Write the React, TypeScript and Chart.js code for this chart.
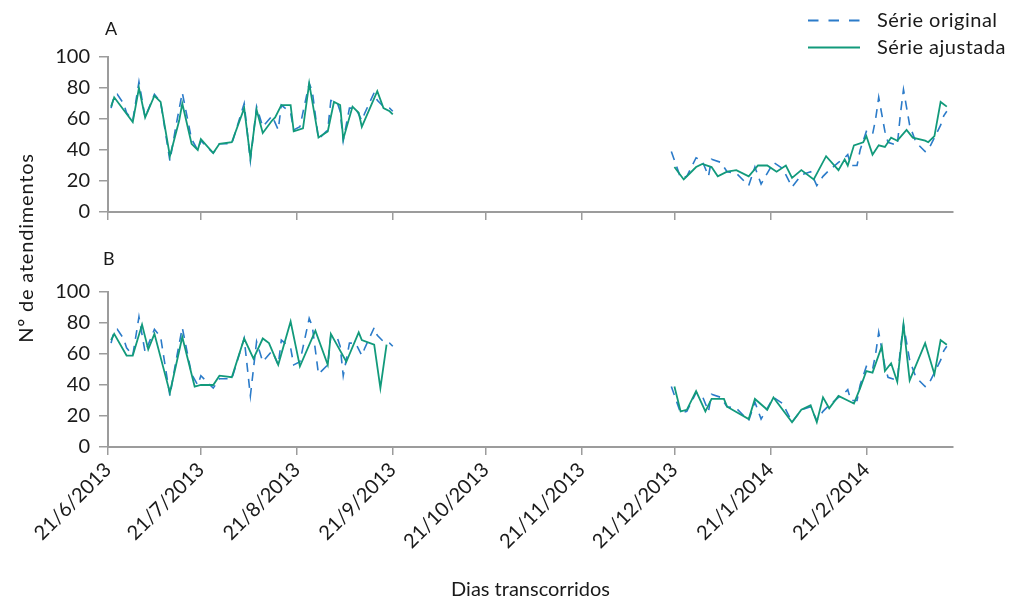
import { useEffect, useRef } from "react";
import { Chart, registerables } from "chart.js";
Chart.register(...registerables);

const FONT = "Lato, 'Open Sans', sans-serif";
const BLUE = "#2b7bc9";
const GREEN = "#129a7b";
const AXIS = "#9c9c9c";
const TEXT = "#1a1a1a";

// x axis: days since 21/6/2013
const tickDays = [0, 30, 61, 92, 122, 153, 183, 214, 245];
const tickLabels = [
  "21/6/2013", "21/7/2013", "21/8/2013", "21/9/2013", "21/10/2013",
  "21/11/2013", "21/12/2013", "21/1/2014", "21/2/2014",
];
const xMax = 273;
const yTicks = [0, 20, 40, 60, 80, 100];

// Série original (same in both panels); null = no data (break)
const origDays = [
  1, 2, 3, 5, 6, 8, 10, 12, 15, 17, 20, 22, 24, 27, 29, 30, 34, 36, 40, 44, 46, 48, 50, 53, 55, 56, 59, 60, 62, 65, 66, 68, 71, 72, 74, 75, 76, 78, 80, 82, 83, 86, 87, 89, 91, 92,
  137,
  182, 185, 187, 190, 192, 194, 195, 198, 200, 203, 207, 209, 211, 215, 218, 221, 224, 227, 229, 231, 233, 236, 238, 239, 240, 242, 243, 245, 247, 248, 249, 251, 252, 255, 256, 257, 259, 261, 264, 265, 267, 269, 270, 271,
];
const origVals = [
  67, 75, 76, 70, 64, 59, 84, 61, 76, 71, 33, 56, 77, 47, 40, 46, 38, 44, 44, 70, 33, 68, 55, 62, 53, 69, 64, 53, 55, 83, 78, 47, 53, 72, 71, 65, 46, 67, 67, 59, 64, 77, 72, 68, 67, 65,
  null,
  39, 22, 23, 35, 33, 23, 34, 32, 26, 25, 17, 29, 18, 32, 28, 16, 24, 26, 17, 23, 27, 32, 35, 37, 30, 30, 40, 52, 50, 60, 74, 52, 45, 43, 63, 79, 56, 45, 39, 40, 48, 56, 62, 65,
];

// Série ajustada, panel A
const adjADays = [
  1, 2, 8, 10, 12, 15, 17, 20, 23, 24, 27, 29, 30, 34, 36, 40, 44, 46, 48, 50, 53, 54, 56, 59, 60, 63, 65, 68, 71, 73, 75, 76, 79, 81, 82, 87, 89, 91, 92,
  137,
  183, 186, 188, 190, 192, 195, 197, 200, 203, 207, 210, 213, 216, 219, 221, 224, 228, 232, 236, 238, 239, 241, 244, 245, 247, 249, 251, 253, 255, 258, 260, 264, 265, 267, 269, 271,
];
const adjAVals = [
  68, 74, 58, 80, 61, 75, 71, 36, 59, 70, 44, 40, 47, 38, 44, 45, 67, 35, 66, 51, 59, 61, 69, 69, 52, 54, 83, 48, 52, 71, 69, 47, 68, 64, 55, 78, 67, 65, 63,
  null,
  29, 21, 25, 29, 31, 29, 23, 26, 27, 23, 30, 30, 26, 30, 22, 27, 21, 36, 27, 34, 30, 43, 45, 49, 37, 43, 42, 48, 46, 53, 48, 46, 45, 49, 71, 68,
];

// Série ajustada, panel B
const adjBDays = [
  1, 2, 6, 8, 11, 13, 15, 20, 24, 28, 30, 34, 36, 40, 44, 47, 50, 52, 55, 59, 62, 67, 71, 72, 77, 81, 82, 86, 88, 90,
  137,
  183, 185, 187, 190, 193, 195, 199, 200, 207, 209, 213, 215, 221, 224, 227, 229, 231, 233, 236, 239, 241, 243, 245, 247, 250, 251, 253, 255, 257, 259, 264, 267, 269, 271,
];
const adjBVals = [
  69, 73, 59, 59, 79, 63, 73, 35, 71, 39, 40, 40, 46, 45, 70, 57, 70, 67, 53, 81, 52, 75, 53, 73, 55, 74, 69, 66, 38, 66,
  null,
  39, 23, 24, 36, 23, 31, 31, 26, 18, 31, 24, 32, 16, 24, 27, 16, 32, 25, 33, 30, 28, 38, 49, 48, 65, 49, 54, 42, 79, 43, 67, 47, 69, 66,
];

const pts = (d: number[], v: (number | null)[]) => d.map((x, i) => ({ x, y: v[i] }));

function makeConfig(adjDays: number[], adjVals: (number | null)[], bottom: boolean, height: number): any {
  return {
    type: "line",
    data: {
      datasets: [
        {
          label: "Série ajustada",
          data: pts(adjDays, adjVals),
          borderColor: GREEN,
          borderWidth: 1.8,
          pointRadius: 0,
          tension: 0,
          spanGaps: false,
        },
        {
          label: "Série original",
          data: pts(origDays, origVals),
          borderColor: BLUE,
          borderWidth: 1.6,
          borderDash: [9, 7],
          pointRadius: 0,
          tension: 0,
          spanGaps: false,
        },
      ],
    },
    options: {
      animation: false,
      responsive: false,
      maintainAspectRatio: false,
      layout: { padding: { left: 0, right: 69, top: 57, bottom: 0 } },
      plugins: { legend: { display: false }, tooltip: { enabled: false } },
      scales: {
        x: {
          type: "linear",
          min: 0,
          max: xMax,
          afterBuildTicks: (s: any) => {
            s.ticks = tickDays.map((v) => ({ value: v }));
          },
          afterFit: (s: any) => {
            s.height = height - 212;
          },
          ticks: {
            display: bottom,
            autoSkip: false,
            minRotation: 45,
            maxRotation: 45,
            padding: 3,
            color: TEXT,
            font: { family: FONT, size: 20 },
            callback: (v: number) => {
              const i = tickDays.indexOf(v);
              return i >= 0 ? tickLabels[i] : "";
            },
          },
          grid: { drawOnChartArea: false, drawTicks: true, tickLength: 8, color: AXIS, lineWidth: 1.5 },
          border: { display: true, color: AXIS, width: 2 },
          title: bottom
            ? {
                display: true,
                text: "Dias transcorridos",
                color: TEXT,
                font: { family: FONT, size: 20 },
                padding: { top: 0, bottom: 1 },
              }
            : { display: false },
        },
        y: {
          min: 0,
          max: 100,
          afterBuildTicks: (s: any) => {
            s.ticks = yTicks.map((v) => ({ value: v }));
          },
          afterFit: (s: any) => {
            s.width = 108;
          },
          ticks: {
            color: TEXT,
            padding: 9,
            font: { family: FONT, size: 20 },
          },
          grid: { drawOnChartArea: false, drawTicks: true, tickLength: 9, color: AXIS, lineWidth: 1.5 },
          border: { display: true, color: AXIS, width: 2 },
        },
      },
    },
  };
}

export default function App() {
  const refA = useRef<HTMLCanvasElement>(null);
  const refB = useRef<HTMLCanvasElement>(null);

  useEffect(() => {
    const a = new Chart(refA.current as HTMLCanvasElement, makeConfig(adjADays, adjAVals, false, 235));
    const b = new Chart(refB.current as HTMLCanvasElement, makeConfig(adjBDays, adjBVals, true, 368));
    return () => {
      a.destroy();
      b.destroy();
    };
  }, []);

  const txt = (extra: any) => ({
    position: "absolute" as const,
    fontFamily: FONT,
    color: TEXT,
    lineHeight: 1.2,
    whiteSpace: "nowrap" as const,
    ...extra,
  });

  return (
    <div style={{ position: "absolute", left: 0, top: 0, width: 1022, height: 603, background: "#fff", overflow: "hidden" }}>
      <canvas ref={refA} width={1022} height={235} style={{ position: "absolute", left: 0, top: 0, width: 1022, height: 235 }} />
      <canvas ref={refB} width={1022} height={368} style={{ position: "absolute", left: 0, top: 235, width: 1022, height: 368 }} />

      <div style={txt({ left: 105, top: 18, fontSize: 18 })}>A</div>
      <div style={txt({ left: 103, top: 248, fontSize: 18 })}>B</div>

      <div
        style={txt({
          left: -125,
          top: 236,
          width: 300,
          textAlign: "center",
          fontSize: 20,
          letterSpacing: 0.8,
          transform: "rotate(-90deg)",
          transformOrigin: "150px 12px",
        })}
      >
        Nº de atendimentos
      </div>

      <svg style={{ position: "absolute", left: 808, top: 18, width: 52, height: 5 }} width={52} height={5}>
        <line x1={0} y1={2.5} x2={52} y2={2.5} stroke={BLUE} strokeWidth={2} strokeDasharray="10.5 10" />
      </svg>
      <div style={txt({ left: 877, top: 7, fontSize: 20, letterSpacing: 0.5 })}>Série original</div>
      <svg style={{ position: "absolute", left: 808, top: 45, width: 52, height: 5 }} width={52} height={5}>
        <line x1={0} y1={2.5} x2={52} y2={2.5} stroke={GREEN} strokeWidth={2} />
      </svg>
      <div style={txt({ left: 877, top: 34, fontSize: 20, letterSpacing: 0.5 })}>Série ajustada</div>
    </div>
  );
}
